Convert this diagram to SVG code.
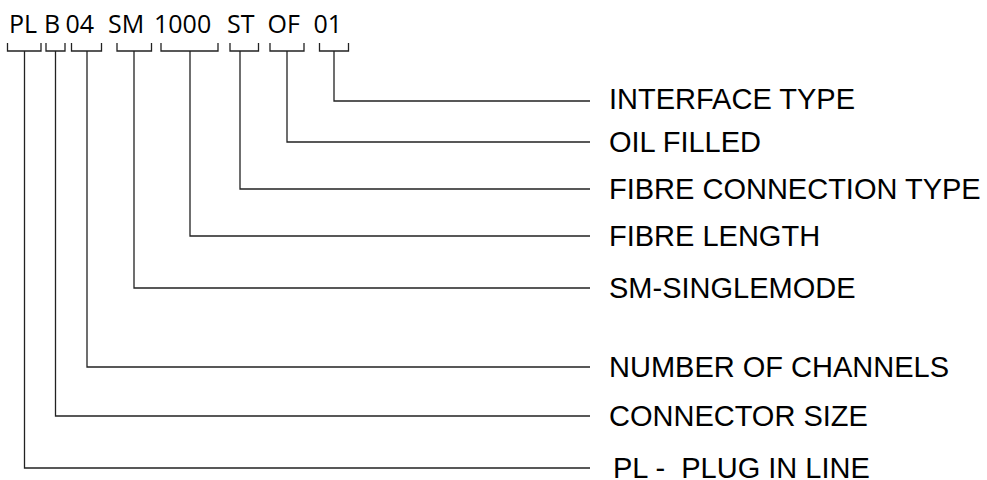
<svg xmlns="http://www.w3.org/2000/svg" width="987" height="480" viewBox="0 0 987 480">
<style>
.code{font-family:"Open Sans","Liberation Sans",sans-serif;font-size:25px;fill:#000}
.lbl{font-family:"Liberation Sans",Arial,sans-serif;font-size:29px;fill:#000;white-space:pre}
.br,.cn{fill:none;stroke:#222;stroke-width:1.3}
</style>
<rect width="987" height="480" fill="#fff"/>
<g id="code">
<g id="seg-PL"><text class="code" x="9" y="33">PL</text><path class="br" d="M7.5 43V51H41V43"/></g>
<g id="seg-B"><text class="code" x="44" y="33">B</text><path class="br" d="M46 43V51H65V43"/></g>
<g id="seg-04"><text class="code" x="65.5" y="33">04</text><path class="br" d="M71.5 43V51H101.5V43"/></g>
<g id="seg-SM"><text class="code" x="108" y="33">SM</text><path class="br" d="M117 43V51H151.5V43"/></g>
<g id="seg-1000"><text class="code" x="154" y="33">1000</text><path class="br" d="M161 43V51H218V43"/></g>
<g id="seg-ST"><text class="code" x="227" y="33">ST</text><path class="br" d="M230 43V51H258.5V43"/></g>
<g id="seg-OF"><text class="code" x="267.5" y="33">OF</text><path class="br" d="M270 43V51H304V43"/></g>
<g id="seg-01"><text class="code" x="313.5" y="33">01</text><path class="br" d="M319.5 43V51H348.5V43"/></g>
</g>
<g id="connectors">
<path class="cn" d="M334 51V101H590"/>
<path class="cn" d="M287 51V142H590"/>
<path class="cn" d="M240 51V189H590"/>
<path class="cn" d="M190 51V236H590"/>
<path class="cn" d="M134 51V288H590"/>
<path class="cn" d="M87 51V367H590"/>
<path class="cn" d="M55.5 51V416H590"/>
<path class="cn" d="M24.5 51V468H590"/>
</g>
<g id="label-interface"><text class="lbl" x="609" y="108.5">INTERFACE TYPE</text></g>
<g id="label-oil"><text class="lbl" x="609" y="152">OIL FILLED</text></g>
<g id="label-fibreconn"><text class="lbl" x="609" y="199">FIBRE CONNECTION TYPE</text></g>
<g id="label-fibrelen"><text class="lbl" x="609" y="246">FIBRE LENGTH</text></g>
<g id="label-sm"><text class="lbl" x="609" y="298">SM-SINGLEMODE</text></g>
<g id="label-channels"><text class="lbl" x="609" y="377">NUMBER OF CHANNELS</text></g>
<g id="label-size"><text class="lbl" x="609" y="426">CONNECTOR SIZE</text></g>
<g id="label-pl"><text class="lbl" x="613" y="477.5">PL -  PLUG IN LINE</text></g>
</svg>
